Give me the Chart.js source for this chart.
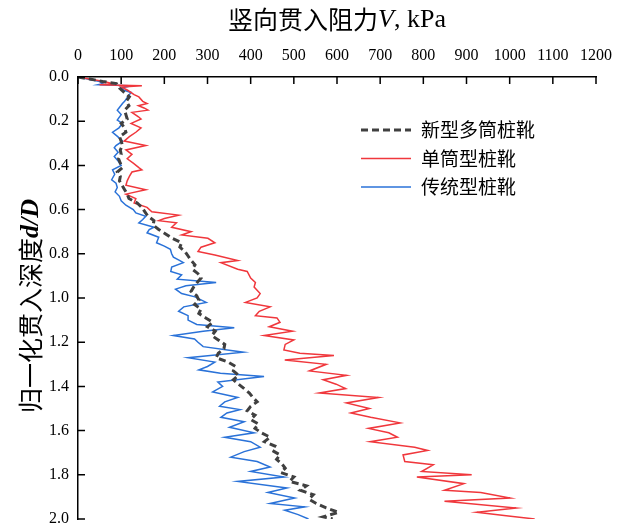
<!DOCTYPE html>
<html>
<head>
<meta charset="UTF-8">
<title>竖向贯入阻力 - 归一化贯入深度</title>
<script src="https://cdn.jsdelivr.net/npm/chart.js@4"></script>
<style>
  html, body { margin: 0; padding: 0; background: #fff; }
  #wrap { width: 624px; height: 529px; }
</style>
</head>
<body>
<div id="wrap"><canvas id="chart"></canvas></div>
<script>
// 图例名称
const seriesNames = ['新型多筒桩靴', '单筒型桩靴', '传统型桩靴'];

// 新型多筒桩靴 (黑色虚线)
const multiDepth = [0.00,0.01,0.02,0.03,0.05,0.07,0.09,0.11,0.13,0.15,0.17,0.19,0.21,0.23,0.25,0.27,0.29,0.31,0.33,0.35,
  0.37,0.39,0.41,0.43,0.45,0.47,0.49,0.51,0.53,0.55,0.57,0.59,0.61,0.63,0.65,0.67,0.69,0.71,0.73,0.75,
  0.77,0.79,0.81,0.83,0.85,0.87,0.89,0.91,0.93,0.95,0.97,0.99,1.01,1.03,1.05,1.07,1.09,1.11,1.13,1.15,
  1.17,1.19,1.21,1.23,1.25,1.27,1.29,1.31,1.33,1.35,1.37,1.39,1.41,1.43,1.45,1.47,1.49,1.51,1.53,1.55,
  1.57,1.59,1.61,1.63,1.65,1.67,1.69,1.71,1.73,1.75,1.77,1.79,1.81,1.83,1.85,1.87,1.89,1.91,1.93,1.95,
  1.97,1.99,2.00];
const multiV = [0,30,57,89,96,107,119,112,118,108,111,114,100,108,111,96,100,103,98,100,
  94,98,103,91,98,96,102,108,114,118,137,148,155,162,176,174,187,203,218,240,
  236,248,255,262,271,265,278,285,276,268,262,275,280,270,285,280,296,312,300,318,
  310,325,340,338,325,320,348,365,360,372,360,372,385,397,405,415,400,392,410,400,
  418,410,425,445,432,456,450,468,460,472,480,470,500,490,529,515,545,535,552,575,
  604,568,590];

// 单筒型桩靴 (红色实线)
const singleDepth = [0.00,0.01,0.02,0.03,0.035,0.04,0.045,0.06,0.08,0.09,0.11,0.12,0.13,0.14,0.15,0.16,0.18,0.19,0.21,0.23,
  0.25,0.27,0.29,0.31,0.33,0.35,0.37,0.39,0.41,0.42,0.43,0.45,0.47,0.49,0.51,0.53,0.55,0.57,0.59,0.61,
  0.625,0.64,0.65,0.66,0.68,0.70,0.715,0.73,0.75,0.77,0.79,0.805,0.83,0.84,0.87,0.88,0.91,0.93,0.95,0.98,
  1.00,1.02,1.04,1.06,1.08,1.09,1.11,1.13,1.15,1.17,1.19,1.21,1.235,1.25,1.26,1.28,1.30,1.33,1.35,1.37,
  1.39,1.41,1.43,1.45,1.475,1.50,1.52,1.54,1.565,1.59,1.61,1.63,1.65,1.675,1.69,1.71,1.74,1.755,1.785,1.80,
  1.81,1.84,1.87,1.88,1.905,1.92,1.95,1.97,1.985,2.00];
const singleV = [0,30,60,80,50,148,100,115,130,141,150,160,140,153,162,125,140,146,123,146,
  134,119,107,157,111,125,114,128,141,148,125,119,114,111,157,111,134,130,160,171,
  233,200,187,228,217,262,240,301,317,285,278,317,370,331,370,392,400,411,408,422,
  415,388,445,420,411,461,468,443,497,431,500,480,477,514,593,479,575,536,622,568,
  598,620,559,696,622,675,632,678,746,673,720,740,677,780,810,753,757,823,796,912,
  785,894,849,933,1001,849,1015,924,992,1058];

// 传统型桩靴 (蓝色实线)
const tradDepth = [0.00,0.01,0.02,0.03,0.035,0.04,0.05,0.06,0.07,0.09,0.11,0.12,0.14,0.15,0.17,0.195,0.21,0.23,0.25,0.27,
  0.29,0.31,0.32,0.34,0.36,0.38,0.40,0.42,0.44,0.465,0.48,0.50,0.52,0.54,0.56,0.58,0.60,0.615,0.63,0.645,
  0.66,0.68,0.69,0.705,0.725,0.75,0.765,0.78,0.80,0.815,0.83,0.84,0.86,0.88,0.895,0.915,0.93,0.945,0.96,0.98,
  0.995,1.02,1.04,1.06,1.08,1.10,1.12,1.135,1.15,1.17,1.185,1.20,1.22,1.245,1.27,1.29,1.31,1.325,1.34,1.355,
  1.38,1.40,1.425,1.45,1.47,1.49,1.505,1.52,1.54,1.56,1.585,1.61,1.63,1.65,1.675,1.695,1.72,1.74,1.765,1.785,
  1.81,1.83,1.86,1.88,1.905,1.93,1.945,1.96,1.98,2.00];
const tradV = [0,25,50,57,46,123,100,107,123,115,108,103,95,91,100,91,103,95,80,92,
  103,88,84,93,84,93,100,80,85,78,88,91,86,96,100,111,128,134,157,150,
  141,176,165,160,187,182,200,214,217,221,235,244,217,215,240,230,320,250,226,240,
  271,297,245,233,255,255,275,362,290,221,270,278,290,383,255,317,300,280,330,431,
  324,335,312,370,340,328,375,345,331,385,351,408,340,400,422,385,354,415,445,400,
  477,370,484,440,502,445,525,479,510,534];

const xMin = 0, xMax = 1200, xStep = 100;
const yMin = 0, yMax = 2.0, yStep = 0.2;

function toPoints(depth, v) {
  return depth.map((d, i) => ({ x: v[i], y: d }));
}

const serifFont = '"Liberation Serif", "Times New Roman", serif';
const cjkFont = '"Noto Sans CJK SC", sans-serif';

// 向内的刻度线
const innerTicks = {
  id: 'innerTicks',
  afterDatasetsDraw(chart) {
    const { ctx, chartArea: a, scales: { x, y } } = chart;
    ctx.save();
    ctx.strokeStyle = '#000';
    ctx.lineWidth = 1.5;
    ctx.beginPath();
    x.ticks.forEach(t => {
      const px = x.getPixelForValue(t.value);
      ctx.moveTo(px, a.top);
      ctx.lineTo(px, a.top + 7);
    });
    y.ticks.forEach(t => {
      const py = y.getPixelForValue(t.value);
      ctx.moveTo(a.left, py);
      ctx.lineTo(a.left + 7, py);
    });
    ctx.stroke();
    ctx.restore();
  }
};

// 画一行混合字体的文字
function drawRuns(ctx, runs, cx, cy) {
  let total = 0;
  runs.forEach(r => { ctx.font = r.font; r.w = ctx.measureText(r.text).width; total += r.w; });
  let x = cx - total / 2;
  ctx.textBaseline = 'middle';
  ctx.textAlign = 'left';
  runs.forEach(r => { ctx.font = r.font; ctx.fillText(r.text, x, cy + (r.dy || 0)); x += r.w; });
}

// 轴标题
const axisTitles = {
  id: 'axisTitles',
  afterDraw(chart) {
    const { ctx, chartArea: a } = chart;
    ctx.save();
    ctx.fillStyle = '#000';
    drawRuns(ctx, [
      { text: '竖向贯入阻力', font: '25px ' + cjkFont },
      { text: 'V', font: 'italic 26px ' + serifFont, dy: 1 },
      { text: ', kPa', font: '26px ' + serifFont, dy: 1 }
    ], (a.left + a.right) / 2, 19);
    ctx.translate(30, (a.top + a.bottom) / 2 + 8);
    ctx.rotate(-Math.PI / 2);
    drawRuns(ctx, [
      { text: '归一化贯入深度', font: '25px ' + cjkFont },
      { text: 'd/D', font: 'bold italic 26px ' + serifFont, dy: 1 }
    ], 0, 0);
    ctx.restore();
  }
};

// 图例 (画在图内右上)
const innerLegend = {
  id: 'innerLegend',
  afterDraw(chart) {
    const { ctx, chartArea: a } = chart;
    ctx.save();
    chart.data.datasets.forEach((ds, i) => {
      const y = a.top + 53 + i * 28.5;
      ctx.strokeStyle = ds.borderColor;
      ctx.lineWidth = ds.borderWidth;
      ctx.setLineDash(ds.borderDash || []);
      ctx.beginPath();
      ctx.moveTo(a.left + 283, y);
      ctx.lineTo(a.left + 333, y);
      ctx.stroke();
      ctx.setLineDash([]);
      ctx.fillStyle = '#000';
      ctx.font = '19px ' + cjkFont;
      ctx.textBaseline = 'middle';
      ctx.fillText(ds.label, a.left + 343, y);
    });
    ctx.restore();
  }
};

new Chart(document.getElementById('chart'), {
  type: 'scatter',
  data: {
    datasets: [
      { label: seriesNames[0], data: toPoints(multiDepth, multiV), showLine: true,
        borderColor: '#404040', borderWidth: 3, borderDash: [7, 4], pointRadius: 0 },
      { label: seriesNames[1], data: toPoints(singleDepth, singleV), showLine: true,
        borderColor: '#f0373c', borderWidth: 1.5, pointRadius: 0 },
      { label: seriesNames[2], data: toPoints(tradDepth, tradV), showLine: true,
        borderColor: '#2a72d8', borderWidth: 1.5, pointRadius: 0 }
    ]
  },
  options: {
    responsive: true,
    maintainAspectRatio: false,
    animation: false,
    layout: { padding: { left: 0, right: 20, top: 0, bottom: 10 }, autoPadding: false },
    plugins: { legend: { display: false }, tooltip: { enabled: false } },
    scales: {
      x: {
        type: 'linear', position: 'top', min: xMin, max: xMax,
        afterFit(s) { s.height = 77; },
        grid: { display: false, drawTicks: false },
        border: { display: true, color: '#000', width: 1.5 },
        ticks: { stepSize: xStep, padding: 12, color: '#000', maxRotation: 0, autoSkip: false,
                 font: { family: serifFont, size: 16 },
                 callback: v => String(v) }
      },
      y: {
        type: 'linear', reverse: true, min: yMin, max: yMax,
        afterFit(s) { s.width = 78; s.paddingTop = 0; s.paddingBottom = 0; },
        grid: { display: false, drawTicks: false },
        border: { display: true, color: '#000', width: 1.5 },
        ticks: { stepSize: yStep, padding: 9, color: '#000', autoSkip: false,
                 font: { family: serifFont, size: 16 },
                 callback: v => Number(v).toFixed(1) }
      }
    }
  },
  plugins: [innerTicks, axisTitles, innerLegend]
});
</script>
</body>
</html>
